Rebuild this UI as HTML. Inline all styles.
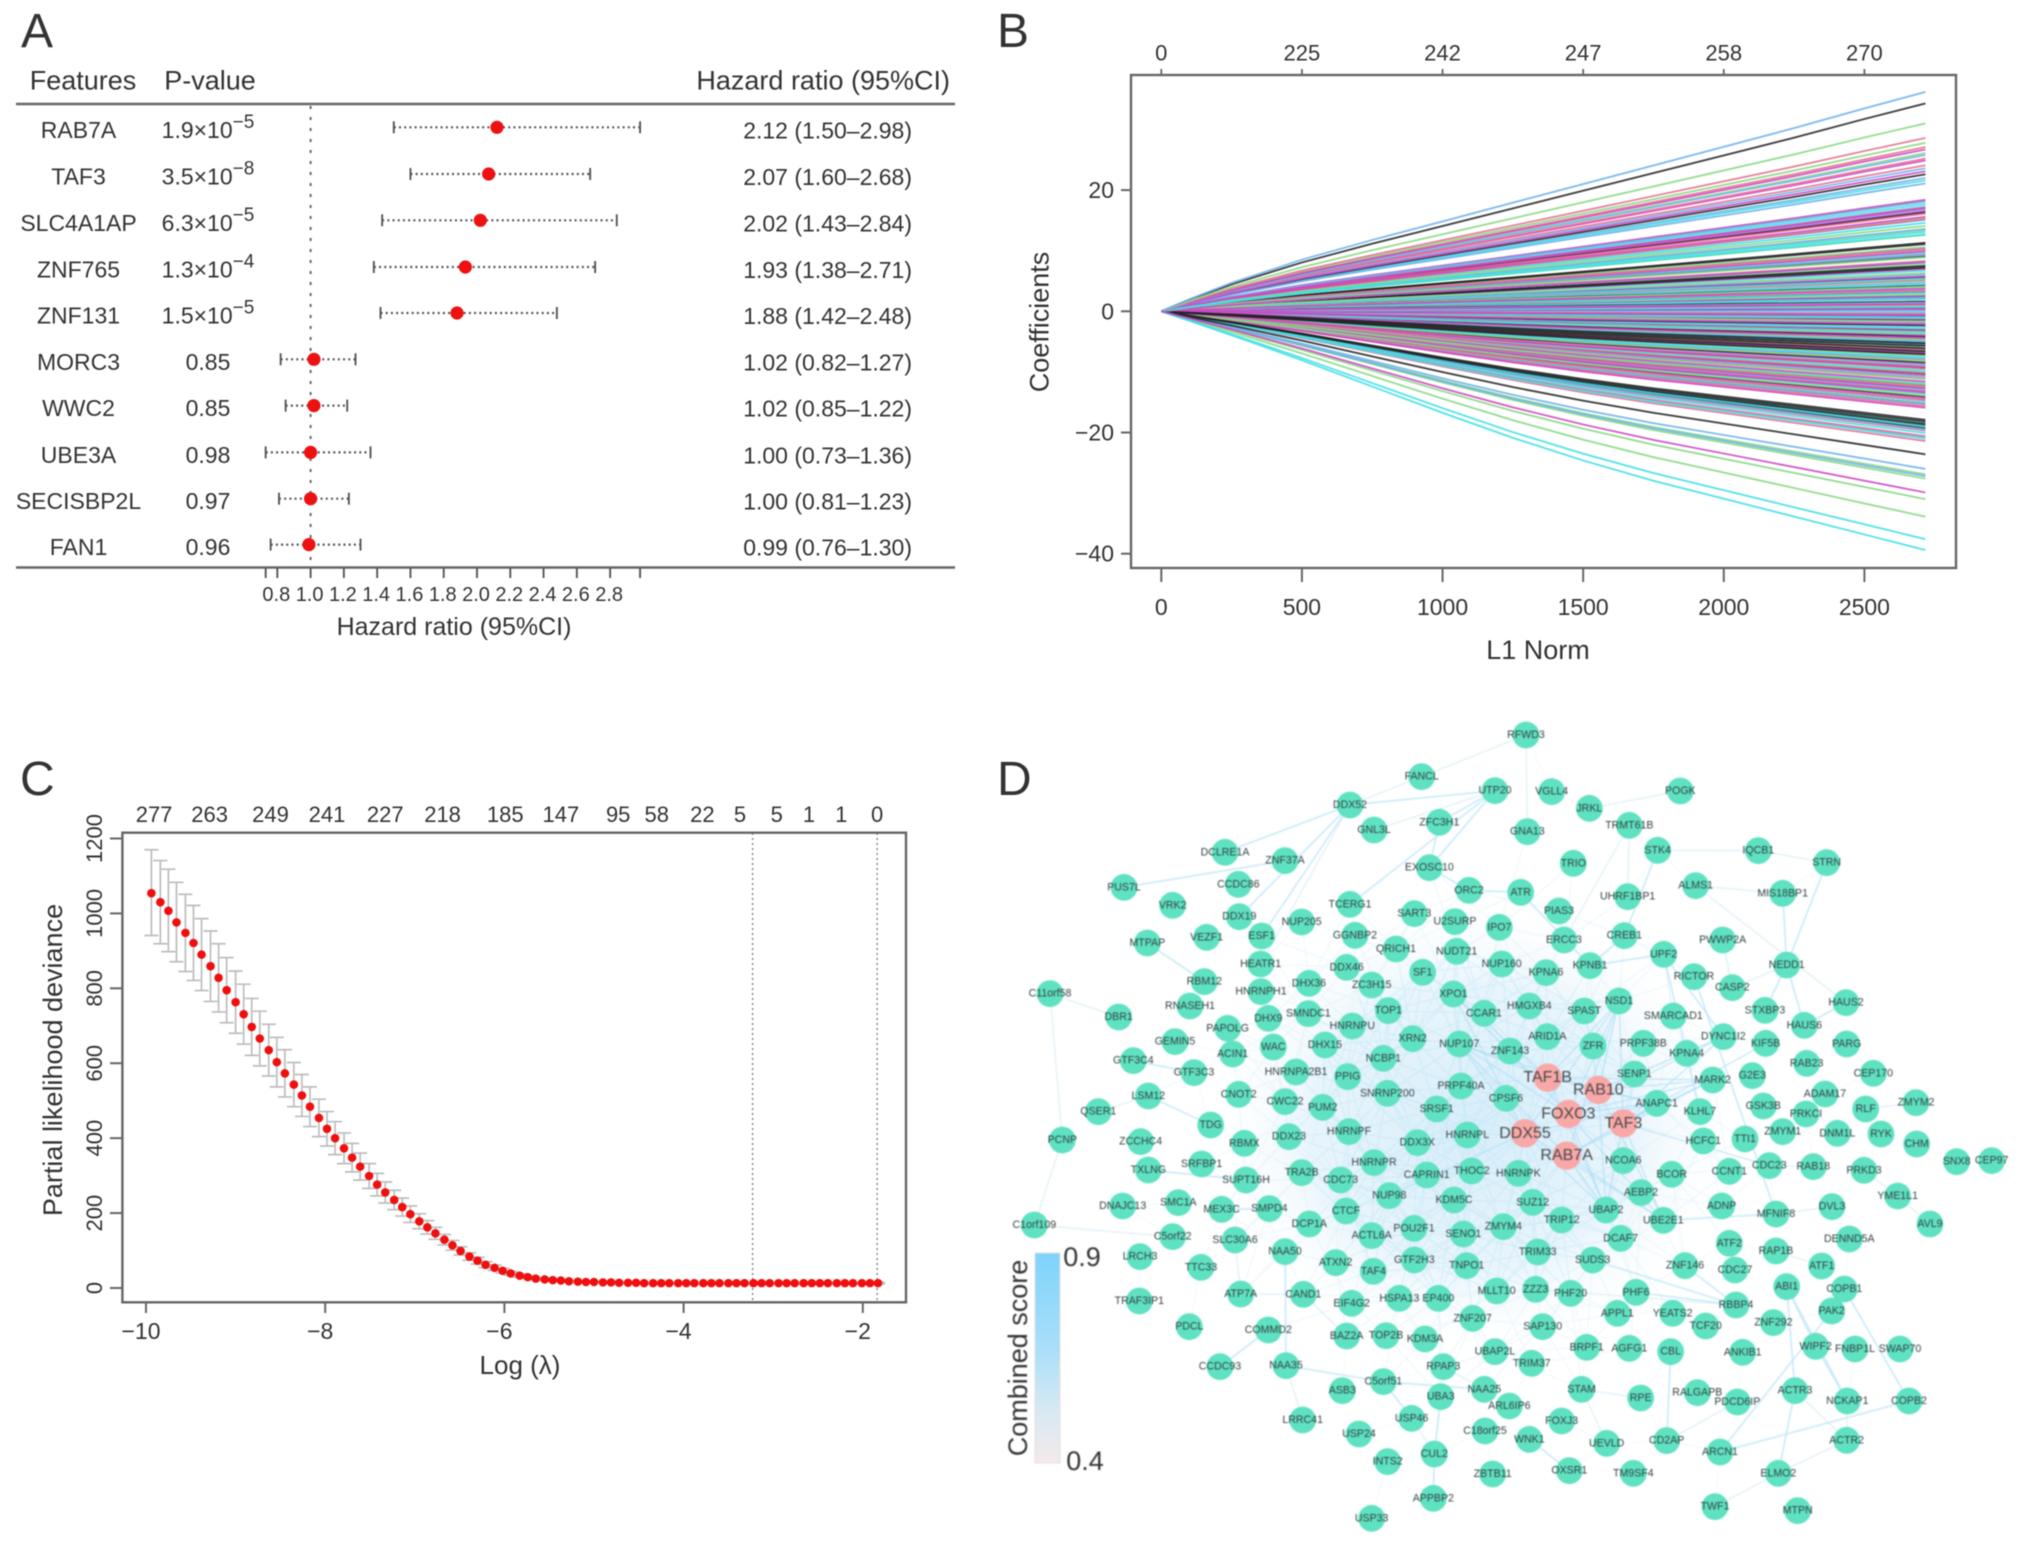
<!DOCTYPE html>
<html lang="en">
<head>
<meta charset="utf-8">
<title>Prognostic gene figure</title>
<style>
html,body{margin:0;padding:0;background:#fff;}
#figure{display:block;width:2032px;height:1550px;font-family:"Liberation Sans",Arial,sans-serif;}
#figure text{fill:#333;}
.soft{filter:blur(.65px);}
.softer{filter:blur(.85px);}
</style>
</head>
<body>
<svg id="figure" xmlns="http://www.w3.org/2000/svg" width="2032" height="1550" viewBox="0 0 2032 1550">
  <defs>
    <linearGradient id="scoreGradient" x1="0" y1="0" x2="0" y2="1">
      <stop offset="0" stop-color="#7ed3fb"/>
      <stop offset=".45" stop-color="#a9def8"/>
      <stop offset=".75" stop-color="#d6e9f3"/>
      <stop offset="1" stop-color="#f5e9ea"/>
    </linearGradient>
    <radialGradient id="hazeGradient">
      <stop offset="0" stop-color="#d6edf9"/>
      <stop offset=".6" stop-color="#e3f2fa" stop-opacity=".8"/>
      <stop offset="1" stop-color="#ffffff" stop-opacity="0"/>
    </radialGradient>
  </defs>
  <g id="panelA" class="soft"></g>
  <g id="panelB" class="soft"></g>
  <g id="panelC" class="soft"></g>
  <g id="panelD" class="softer"></g>
  <g class="soft">
    <text x="21" y="47" font-size="48">A</text>
    <text x="997" y="47" font-size="48">B</text>
    <text x="20" y="795" font-size="48">C</text>
    <text x="997" y="795" font-size="48">D</text>
  </g>
</svg>
<script>
/* ---------- Panel A data ---------- */
var features = ["RAB7A","TAF3","SLC4A1AP","ZNF765","ZNF131","MORC3","WWC2","UBE3A","SECISBP2L","FAN1"];
var pMantissa = ["1.9×10","3.5×10","6.3×10","1.3×10","1.5×10","0.85","0.85","0.98","0.97","0.96"];
var pExponent = ["−5","−8","−5","−4","−5","","","","",""];
var hazardRatio = [2.12,2.07,2.02,1.93,1.88,1.02,1.02,1.00,1.00,0.99];
var ciLow = [1.50,1.60,1.43,1.38,1.42,0.82,0.85,0.73,0.81,0.76];
var ciHigh = [2.98,2.68,2.84,2.71,2.48,1.27,1.22,1.36,1.23,1.30];
var hrTicks = [0.73,0.8,1.0,1.2,1.4,1.6,1.8,2.0,2.2,2.4,2.6,2.8,2.98];
var hrTickLabels = ["0.8","1.0","1.2","1.4","1.6","1.8","2.0","2.2","2.4","2.6","2.8"];
var hrTickLabelValues = [0.8,1.0,1.2,1.4,1.6,1.8,2.0,2.2,2.4,2.6,2.8];

/* ---------- Panel B data: end-of-path coefficients by palette colour ---------- */
var coefBlack = [34.3,-23.6,-18.2,-18.6,-17.9,-6.1,-6.6,-5.7,-7.1,-5.3,11.1,11.3,7.2,7.5,1.6,22.6,16.3,3.2,-3.1,-8.4,-4.2,-2.3,4.2,-18.9,-19.3,-6.9,0.6,-0.8,9.1,-12.2,-14.1,2.4,-1.4,5.6,-10.3,-5.1,-15.2,-9.2];
var coefPink = [28.6,27.1,25.2,24.1,17.1,16.1,15.2,10.2,8.3,5.2,3.4,1.1,-1.2,-3.3,-9.1,-10.2,-11.1,-15.6,-13.2,-20.6,-21.4,-19.7,-0.4,-6.3,-8.0,-12.4,-14.6,2.1,0.3,-2.4,-4.6,9.4];
var coefGreen = [31,27.8,26.1,14.1,12.6,8.9,6.3,4.1,-33.9,-31,-27.6,-26.9,-12.1,-13.9,-11.2,-8.2,-4.7,18.2,15.3,10.6,7.8,2.8,0.9,-1.7,-3.7,-6,-9.7,-15.2,13.4,5,-7.4];
var coefBlue = [36.2,25.8,23.6,21.1,18.1,17.3,13.6,9.3,-26,-27.2,-19.5,6.1,3.9,1.4,-0.9,-2.9,-5,-7.8,-10.8,-13.1,-15.3,22,16.7,15.1,7.4,4.7,2.3,0.1,-1.9,-4.1,-6.4,-9,-12.6,-14.8,-20.8];
var coefCyan = [-39.4,-37.6,13.1,12.7,-21,-20.1,-19,14.6,8.1,5.4,3.1,0.7,-1.1,-3.5,-5.4,-7.6,-9.9,-11.9,-13.6,-18.4,21.6,17.7,6.7,4.4,2,-0.2,-2.6,-4.9,-8.8,-12.9,9.7];
var coefMagenta = [-29.9,26.7,23.1,17,15.6,8.1,3.7,1.2,-0.6,-2.1,-4.4,-6.8,-9.4,-11.6,-13.4,-15.9,24.9,18.4,16.5,9.9,7,5.8,2.6,0.4,-1.6,-3.9,-5.6,-8.6,-10.6,-12.7,-14.4,10.4];
var l1Grid = [0,100,250,500,750,1000,1250,1500,1750,2000,2250,2500,2717];
var pathFractionPositive = [0,.055,.13,.235,.325,.41,.495,.58,.665,.75,.835,.925,1];
var pathFractionNegative = [0,.04,.1,.205,.315,.425,.53,.625,.71,.785,.86,.935,1];
var l1Ticks = [0,500,1000,1500,2000,2500];
var l1TopLabels = ["0","225","242","247","258","270"];
var coefTicks = [20,0,-20,-40];

/* ---------- Panel C data ---------- */
var logLambda = [-9.94,-9.84,-9.75,-9.66,-9.56,-9.47,-9.38,-9.28,-9.19,-9.10,-9.00,-8.91,-8.82,-8.73,-8.63,-8.54,-8.45,-8.35,-8.26,-8.17,-8.07,-7.98,-7.89,-7.79,-7.70,-7.61,-7.51,-7.42,-7.33,-7.23,-7.14,-7.05,-6.95,-6.86,-6.77,-6.67,-6.58,-6.49,-6.39,-6.30,-6.21,-6.11,-6.02,-5.93,-5.83,-5.74,-5.65,-5.55,-5.46,-5.37,-5.28,-5.18,-5.09,-5.00,-4.90,-4.81,-4.72,-4.62,-4.53,-4.44,-4.34,-4.25,-4.16,-4.06,-3.97,-3.88,-3.78,-3.69,-3.60,-3.50,-3.41,-3.32,-3.22,-3.13,-3.04,-2.94,-2.85,-2.76,-2.66,-2.57,-2.48,-2.39,-2.29,-2.20,-2.11,-2.01,-1.92,-1.83];
var deviance = [1054,1030,1007,976,948,921,890,859,828,795,763,731,697,666,635,603,573,543,514,484,454,425,400,373,348,324,299,276,255,235,216,197,178,162,146,129,114,99,84,73,62,54,46,39,33,29,25,23,21,20,18,17,16,16,15,15,14,14,14,13,13,13,13,13,13,13,13,13,13,13,13,13,13,13,13,13,13,13,13,13,13,13,13,13,13,13,13,13];
var devianceUpper = [1170,1141,1118,1083,1051,1021,986,953,919,882,846,811,773,739,704,669,636,602,570,537,504,471,444,414,386,360,332,306,283,261,240,219,198,180,162,143,127,110,94,82,70,61,52,44,38,33,28,26,24,22,20,19,18,18,17,17,16,16,16,15,15,15,15,15,15,15,15,15,15,15,15,15,15,15,15,15,15,15,15,15,15,15,15,15,15,15,15,15];
var devianceLower = [941,919,898,871,845,821,794,765,737,708,680,651,621,593,566,537,510,484,458,431,404,379,356,332,310,288,266,246,227,209,192,175,158,144,130,115,101,88,74,64,54,47,40,34,29,25,22,20,18,18,16,15,14,14,13,13,12,12,12,11,11,11,11,11,11,11,11,11,11,11,11,11,11,11,11,11,11,11,11,11,11,11,11,11,11,11,11,11];
var lambdaTicks = [-10,-8,-6,-4,-2];
var devianceTicks = [0,200,400,600,800,1000,1200];
var activeCounts = ["277","263","249","241","227","218","185","147","95","58","22","5","5","1","1","0"];
var activeCountAt = [-9.91,-9.29,-8.61,-7.98,-7.33,-6.69,-5.99,-5.37,-4.73,-4.30,-3.79,-3.37,-2.96,-2.60,-2.24,-1.84];
var lambdaMarkers = [-3.23,-1.84];

/* ---------- Panel D data: [gene, layoutX, layoutY] ---------- */
var hubGenes = [["TAF1B",1643,1103],["RAB10",1795,1140],["FOXO3",1705,1212],["TAF3",1870,1240],["DDX55",1575,1270],["RAB7A",1700,1337]];
var partnerGenes = [
["DDX52",1050,285],["FANCL",1265,200],["UTP20",1485,242],["GNL3L",1122,360],["ZFC3H1",1318,337],["DCLRE1A",675,427],["ZNF37A",855,452],["EXOSC10",1288,473],["PUS7L",372,532],["CCDC86",715,523],["ORC2",1407,541],["VRK2",518,586],["DDX19",718,620],["TCERG1",1050,583],["SART3",1243,611],["NUP205",905,636],["U2SURP",1365,635],["IPO7",1498,652],["MTPAP",442,699],["VEZF1",620,682],["ESF1",785,678],["GGNBP2",1065,676],["QRICH1",1188,717],["NUDT21",1370,724],["HEATR1",782,762],["NUP160",1505,762],["DDX46",1040,772],["SF1",1268,787],["RBM12",613,815],["DHX36",927,820],["ZC3H15",1115,825],["HNRNPH1",783,845],["XPO1",1360,852],["C11orf58",150,851],["RNASEH1",570,888],["TOP1",1165,902],["CCAR1",1452,910],["DBR1",356,921],["SMNDC1",925,911],["DHX9",805,925],["PAPOLG",683,955],["HNRNPU",1057,948],["GEMIN5",525,995],["XRN2",1238,986],["NUP107",1378,1002],["ZNF143",1530,1023],["WAC",820,1011],["DHX15",975,1005],["ACIN1",698,1032],["NCBP1",1150,1045],["GTF3C4",400,1052],["GTF3C3",582,1088],["HNRNPA2B1",888,1086],["PPIG",1043,1100],["PRPF40A",1383,1128],["CPSF6",1518,1165],["CNOT2",716,1153],["LSM12",445,1158],["CWC22",855,1175],["PUM2",968,1192],["SNRNP200",1162,1150],["SRSF1",1310,1197],["QSER1",295,1205],["TDG",632,1245],
["RFWD3",1578,75],["VGLL4",1655,245],["POGK",2041,243],["JRKL",1768,295],["TRMT61B",1888,346],["GNA13",1582,365],["STK4",1973,421],["IQCB1",2275,422],["STRN",2480,458],["TRIO",1720,460],["ALMS1",2087,527],["MIS18BP1",2348,550],["ATR",1562,547],["UHRF1BP1",1883,560],["PIAS3",1677,603],["ERCC3",1692,690],["CREB1",1873,677],["PWWP2A",2168,690],["UPF2",1991,733],["NEDD1",2360,765],["KPNB1",1770,767],["KPNA6",1638,788],["RICTOR",2082,800],["CASP2",2197,833],["NSD1",1857,873],["HMGXB4",1588,888],["SPAST",1753,903],["STXBP3",2295,901],["HAUS2",2538,878],["SMARCAD1",2020,918],["HAUS6",2413,946],["DYNC1I2",2170,980],["ARID1A",1642,980],["KIF5B",2297,1000],["PARG",2540,1002],["PRPF38B",1930,1000],["ZFR",1779,1008],["KPNA4",2060,1030],["RAB23",2420,1060],["CEP170",2620,1090],["SENP1",1903,1092],["MARK2",2138,1110],["G2E3",2257,1097],["ADAM17",2475,1152],["ZMYM2",2748,1178],["ANAPC1",1970,1180],["GSK3B",2290,1188],["RLF",2597,1197],["KLHL7",2100,1205],["PRKCI",2418,1212],
["ZMYM1",2348,1265],["HCFC1",2110,1293],["TTI1",2235,1287],["DNM1L",2512,1270],["RYK",2643,1272],["CHM",2750,1302],["SNX8",2870,1355],["CEP97",2975,1352],["NCOA6",1870,1352],["HNRNPK",1555,1390],["BCOR",2015,1393],["CCNT1",2188,1384],["CDC23",2308,1367],["RAB18",2440,1370],["PRKD3",2592,1381],["YME1L1",2693,1458],["AEBP2",1923,1448],["SUZ12",1598,1477],["ADNP",2165,1488],["DVL3",2496,1490],["UBAP2",1818,1500],["MFNIF8",2328,1512],["TRIP12",1685,1530],["UBE2E1",1990,1531],["AVL9",2790,1542],["ZMYM4",1510,1550],["DCAF7",1862,1585],["DENND5A",2548,1587],["ATF2",2188,1600],["RAP1B",2328,1623],["TRIM33",1613,1626],["SUDS3",1778,1650],["ZNF146",2055,1667],["CDC27",2205,1680],["ATF1",2465,1668],["ABI1",2360,1730],["COPB1",2533,1737],["ZZZ3",1607,1738],["MLLT10",1490,1743],["PHF20",1712,1750],["PHF6",1908,1747],["RBBP4",2208,1785],["PAK2",2495,1803],["APPL1",1852,1810],["YEATS2",2018,1810],["ZNF292",2320,1838],["TCF20",2117,1848],["SAP130",1628,1850],["WIPF2",2447,1909],["FNBP1L",2565,1917],["SWAP70",2700,1917],["BRPF1",1760,1912],["AGFG1",1888,1915],["CBL",2012,1925],["ANKIB1",2228,1927],["UBAP2L",1485,1925],["TRIM37",1595,1960],["STAM",1745,2038],["RPE",1922,2064],["RALGAPB",2092,2048],["PDCD6IP",2212,2076],["ACTR3",2385,2042],["NCKAP1",2542,2073],["COPB2",2727,2073],["ARL6IP6",1528,2088],["FOXJ3",1685,2133],["WNK1",1588,2188],["UEVLD",1820,2200],["CD2AP",2000,2192],["ACTR2",2540,2191],["ARCN1",2160,2226],["OXSR1",1708,2282],["TM9SF4",1900,2290],["ELMO2",2335,2290],["TWF1",2145,2390],["MTPN",2393,2402],["ZBTB11",1478,2292],
["PCNP",187,1290],["ZCCHC4",422,1295],["RBMX",733,1300],["DDX23",867,1280],["HNRNPF",1047,1265],["DDX3X",1252,1298],["HNRNPL",1402,1275],["TXLNG",445,1380],["SRFBP1",605,1362],["SUPT16H",738,1410],["TRA2B",905,1388],["CDC73",1022,1410],["HNRNPR",1122,1358],["CAPRIN1",1280,1395],["THOC2",1415,1383],["NUP98",1168,1457],["KDM5C",1362,1470],["DNAJC13",368,1488],["SMC1A",535,1478],["MEX3C",665,1498],["SMPD4",808,1496],["CTCF",1038,1503],["DCP1A",928,1542],["C1orf109",103,1545],["POU2F1",1242,1555],["SENO1",1390,1572],["ACTL6A",1115,1577],["C5orf22",518,1580],["SLC30A6",705,1590],["NAA50",855,1625],["LRCH3",420,1640],["ATXN2",1007,1658],["GTF2H3",1243,1650],["TNPO1",1400,1667],["TTC33",603,1672],["TAF4",1120,1684],["ATP7A",722,1752],["CAND1",910,1753],["EIF4G2",1055,1780],["HSPA13",1198,1765],["EP400",1315,1765],["TRAF3IP1",418,1773],["ZNF207",1418,1825],["PDCL",568,1850],["COMMD2",805,1860],["BAZ2A",1040,1878],["TOP2B",1158,1877],["KDM3A",1275,1887],["CCDC93",660,1970],["NAA35",858,1967],["RPAP3",1330,1970],["C5orf51",1150,2015],["NAA25",1453,2038],["ASB3",1027,2042],["UBA3",1322,2060],["USP46",1235,2125],["LRRC41",908,2130],["C18orf25",1455,2163],["USP24",1077,2172],["CUL2",1303,2232],["INTS2",1163,2255],["APPBP2",1300,2365],["USP33",1115,2425]
];
var strongEdges = [["DDX52","UTP20"],["DDX52","DCLRE1A"],["PUS7L","ZNF37A"],["MTPAP","RBM12"],["UTP20","ZFC3H1"],["UTP20","EXOSC10"],["UTP20","TCERG1"],["DDX52","DDX19"],["DDX52","ESF1"],["ZFC3H1","EXOSC10"],["EXOSC10","ORC2"],["ORC2","ATR"],["STK4","CREB1"],["NEDD1","MIS18BP1"],["NEDD1","STRN"],["NEDD1","HAUS6"],["HAUS6","HAUS2"],["NEDD1","STXBP3"],["GTF3C4","GTF3C3"],["COMMD2","CCDC93"],["NAA50","NAA35"],["NAA35","C5orf51"],["C5orf51","NAA25"],["C5orf51","USP46"],["UBA3","CUL2"],["CUL2","APPBP2"],["CBL","CD2AP"],["ARCN1","COPB2"],["ARCN1","PAK2"],["COPB1","COPB2"],["ABI1","NCKAP1"],["ABI1","WIPF2"],["WIPF2","NCKAP1"],["ACTR3","ELMO2"],["ABI1","ACTR3"],["UBE2E1","MFNIF8"],["RBBP4","ZNF146"],["RBBP4","SUDS3"],["RBBP4","PHF6"],["RICTOR","MFNIF8"],["LSM12","TDG"],["TXLNG","SUPT16H"],["MEX3C","SMPD4"],["UPF2","KPNB1"],["UPF2","DYNC1I2"],["KLHL7","UPF2"],["CREB1","KPNB1"],["ATR","KPNB1"],["WNK1","OXSR1"]];
var faintEdges = [["DDX52","FANCL"],["FANCL","RFWD3"],["UTP20","GNL3L"],["DDX52","HEATR1"],["RFWD3","GNA13"],["STK4","IQCB1"],["IQCB1","STRN"],["TRMT61B","ERCC3"],["NEDD1","CASP2"],["ALMS1","MIS18BP1"],["C1orf109","C5orf22"],["PCNP","C1orf109"],["C11orf58","DBR1"],["C11orf58","PCNP"],["LSM12","QSER1"],["NAA25","RPAP3"],["ATP7A","CAND1"],["SLC30A6","ATP7A"],["LRRC41","NAA35"],["CAND1","BAZ2A"],["USP46","CUL2"],["STAM","RPE"],["STAM","UEVLD"],["ACTR3","ACTR2"],["NCKAP1","ACTR2"],["ELMO2","TWF1"],["ELMO2","ACTR2"],["CD2AP","PDCD6IP"],["RBBP4","ZZZ3"],["PRKD3","YME1L1"],["YME1L1","AVL9"],["RLF","ZMYM2"],["DVL3","MFNIF8"],["CDC23","RAB18"],["ATF1","RAP1B"],["UPF2","SMARCAD1"],["CASP2","PWWP2A"],["TRMT61B","UHRF1BP1"],["PIAS3","ERCC3"],["POGK","JRKL"],["ALMS1","HAUS2"]];

/* ---------- Helpers ---------- */
var NS = "http://www.w3.org/2000/svg";
function mk(parent, tag, attrs, txt) {
  var el = document.createElementNS(NS, tag);
  for (var k in attrs) { el.setAttribute(k, attrs[k]); }
  if (txt !== undefined) { el.textContent = txt; }
  parent.appendChild(el);
  return el;
}
function slug(s) { return String(s).toLowerCase().replace(/[^a-z0-9]+/g, "-"); }
function label(parent, x, y, size, txt, anchor, name, rot) {
  var a = { x: x, y: y, "font-size": size, "text-anchor": anchor || "middle", "dominant-baseline": "central" };
  if (rot) { a.transform = "rotate(" + rot + " " + x + " " + y + ")"; }
  var el = mk(parent, "text", a, txt);
  
  
  return el;
}
function mark(parent, tag, attrs, name) {
  var el = mk(parent, tag, attrs);
  
  
  return el;
}

/* ---------- Panel A ---------- */
(function () {
  var g = document.getElementById("panelA");
  function xA(v) { return 310.6 + (v - 1) * 166.4; }
  var rowY = [127.3, 174, 220.3, 267, 313, 359.3, 405.6, 452.4, 498.7, 544.6];
  label(g, 83, 80.5, 27, "Features", "middle", "features-column-header");
  label(g, 210, 80.5, 27, "P-value", "middle", "p-value-column-header");
  label(g, 950, 80.5, 27, "Hazard ratio (95%CI)", "end", "hazard-ratio-column-header");
  mark(g, "line", { x1: 16, x2: 955, y1: 104, y2: 104, stroke: "#666", "stroke-width": 2.4 }, "table-top-rule");
  mark(g, "line", { x1: 16, x2: 955, y1: 567.5, y2: 567.5, stroke: "#666", "stroke-width": 2.4 }, "table-bottom-rule");
  mark(g, "line", { x1: xA(1), x2: xA(1), y1: 106, y2: 566, stroke: "#666", "stroke-width": 2, "stroke-dasharray": "3 8" }, "reference-line-hr-1");
  features.forEach(function (f, i) {
    var y = rowY[i], n = slug(f);
    label(g, 78.5, y + 2.5, 23, f, "middle", "feature-label-" + n);
    var p = label(g, 208, y + 2.5, 23, pMantissa[i], "middle", "p-value-" + n);
    if (pExponent[i]) {
      var t = mk(p, "tspan", { dy: -8, "font-size": 19 }, pExponent[i]);
      
      
    }
    var hrText = hazardRatio[i].toFixed(2) + " (" + ciLow[i].toFixed(2) + "–" + ciHigh[i].toFixed(2) + ")";
    label(g, 912, y + 3, 23, hrText, "end", "hazard-ratio-text-" + n);
    mark(g, "line", { x1: xA(ciLow[i]), x2: xA(ciHigh[i]), y1: y, y2: y, stroke: "#555", "stroke-width": 2.2, "stroke-dasharray": "2 3.2" }, "ci-line-" + n);
    mark(g, "line", { x1: xA(ciLow[i]), x2: xA(ciLow[i]), y1: y - 6, y2: y + 6, stroke: "#555", "stroke-width": 1.9 }, "ci-low-cap-" + n);
    mark(g, "line", { x1: xA(ciHigh[i]), x2: xA(ciHigh[i]), y1: y - 6, y2: y + 6, stroke: "#555", "stroke-width": 1.9 }, "ci-high-cap-" + n);
    mark(g, "circle", { cx: xA(hazardRatio[i]), cy: y, r: 6.6, fill: "#ee1111" }, "hazard-point-" + n);
  });
  hrTicks.forEach(function (v, i) {
    mark(g, "line", { x1: xA(v), x2: xA(v), y1: 568, y2: 578, stroke: "#555", "stroke-width": 1.9 }, "hr-axis-tick-" + i);
  });
  hrTickLabels.forEach(function (s, i) {
    label(g, xA(hrTickLabelValues[i]) - 1, 595, 20, s, "middle", "hr-axis-label-" + slug(s));
  });
  label(g, 454, 627, 25, "Hazard ratio (95%CI)", "middle", "hr-axis-title");
})();

/* ---------- Panel B ---------- */
(function () {
  var g = document.getElementById("panelB");
  function xB(v) { return 1161.3 + v * 0.28124; }
  function yB(v) { return 311.3 - v * 6.06; }
  var palette = [
    ["black", coefBlack, "#262626"],
    ["pink", coefPink, "#e5708f"],
    ["green", coefGreen, "#86d882"],
    ["blue", coefBlue, "#6fb2ea"],
    ["cyan", coefCyan, "#3fdfe6"],
    ["magenta", coefMagenta, "#cf45c4"]
  ];
  var longest = 0;
  palette.forEach(function (p) { longest = Math.max(longest, p[1].length); });
  var lines = mk(g, "g", { fill: "none", "stroke-width": 1.9, "stroke-linejoin": "round" });
  
  
  for (var i = longest - 1; i >= 0; i--) {
    palette.forEach(function (p) {
      if (i >= p[1].length) { return; }
      var end = p[1][i];
      var frac = end >= 0 ? pathFractionPositive : pathFractionNegative;
      var d = l1Grid.map(function (l, j) {
        return (j ? "L" : "M") + xB(l).toFixed(1) + " " + yB(end * frac[j]).toFixed(1);
      }).join("");
      mark(lines, "path", { d: d, stroke: p[2], "stroke-opacity": 0.85 }, "coefficient-path-" + p[0] + "-" + i);
    });
  }
  mark(g, "rect", { x: 1131, y: 75, width: 825, height: 493, fill: "none", stroke: "#666", "stroke-width": 2.4 }, "coefficient-plot-frame");
  l1Ticks.forEach(function (v, i) {
    mark(g, "line", { x1: xB(v), x2: xB(v), y1: 568, y2: 582, stroke: "#666", "stroke-width": 2 }, "l1-axis-tick-" + v);
    mark(g, "line", { x1: xB(v), x2: xB(v), y1: 69, y2: 75, stroke: "#666", "stroke-width": 1.8 }, "top-axis-tick-" + v);
    label(g, xB(v), 607, 23, String(v), "middle", "l1-axis-label-" + v);
    label(g, xB(v), 53, 22, l1TopLabels[i], "middle", "top-axis-label-" + l1TopLabels[i]);
  });
  coefTicks.forEach(function (v) {
    mark(g, "line", { x1: 1121, x2: 1131, y1: yB(v), y2: yB(v), stroke: "#666", "stroke-width": 2 }, "coefficient-axis-tick-" + slug(v));
    label(g, 1114, yB(v), 23, String(v).replace("-", "−"), "end", "coefficient-axis-label-" + slug(v));
  });
  label(g, 1538, 650, 27, "L1 Norm", "middle", "l1-axis-title");
  label(g, 1039.5, 322, 27, "Coefficients", "middle", "coefficient-axis-title", -90);
})();

/* ---------- Panel C ---------- */
(function () {
  var g = document.getElementById("panelC");
  function xC(v) { return 146 + (v + 10) * 89.6; }
  function yC(v) { return 1288 - v * 0.3746; }
  lambdaMarkers.forEach(function (v, i) {
    mark(g, "line", { x1: xC(v), x2: xC(v), y1: 833, y2: 1302, stroke: "#777", "stroke-width": 1.3, "stroke-dasharray": "2 3" }, "lambda-marker-" + i);
  });
  logLambda.forEach(function (v, i) {
    var x = xC(v), u = yC(devianceUpper[i]), l = yC(devianceLower[i]);
    var d = "M" + x + " " + u + "V" + l + "M" + (x - 7) + " " + u + "H" + (x + 7) + "M" + (x - 7) + " " + l + "H" + (x + 7);
    mark(g, "path", { d: d, fill: "none", stroke: "#bdbdbd", "stroke-width": 1.7 }, "deviance-error-bar-" + i);
  });
  logLambda.forEach(function (v, i) {
    mark(g, "circle", { cx: xC(v), cy: yC(deviance[i]), r: 4.3, fill: "#f00f0f" }, "deviance-point-" + i);
  });
  mark(g, "rect", { x: 122.4, y: 832.7, width: 783.6, height: 469.6, fill: "none", stroke: "#666", "stroke-width": 2.4 }, "deviance-plot-frame");
  lambdaTicks.forEach(function (v) {
    mark(g, "line", { x1: xC(v), x2: xC(v), y1: 1302, y2: 1313, stroke: "#666", "stroke-width": 2 }, "lambda-axis-tick-" + slug(v));
    label(g, xC(v) - 5, 1331, 23, String(v).replace("-", "−"), "middle", "lambda-axis-label-" + slug(v));
  });
  devianceTicks.forEach(function (v) {
    mark(g, "line", { x1: 110, x2: 122.4, y1: yC(v), y2: yC(v), stroke: "#666", "stroke-width": 2 }, "deviance-axis-tick-" + v);
    label(g, 94.5, yC(v), 22, String(v), "middle", "deviance-axis-label-" + v, -90);
  });
  activeCounts.forEach(function (s, i) {
    label(g, xC(activeCountAt[i]), 814.5, 22, s, "middle", "active-count-label-" + i);
  });
  label(g, 520, 1365, 26, "Log (λ)", "middle", "lambda-axis-title");
  label(g, 53, 1060, 27, "Partial likelihood deviance", "middle", "deviance-axis-title", -90);
})();

/* ---------- Panel D ---------- */
(function () {
  var g = document.getElementById("panelD");
  function nx(v) { return 1000 + v / 3; }
  function ny(v) { return 710 + v / 3; }
  var all = hubGenes.concat(partnerGenes);
  var pos = {};
  all.forEach(function (n) { pos[n[0]] = n; });
  mark(g, "ellipse", { cx: nx(1420), cy: ny(1250), rx: 270, ry: 235, fill: "url(#hazeGradient)" }, "network-core-haze");

  function dist(a, b) { return Math.sqrt((a[1] - b[1]) * (a[1] - b[1]) + (a[2] - b[2]) * (a[2] - b[2])); }
  var classes = [[], [], []];
  function seg(a, b) { return "M" + nx(a[1]).toFixed(1) + " " + ny(a[2]).toFixed(1) + "L" + nx(b[1]).toFixed(1) + " " + ny(b[2]).toFixed(1); }
  var core = [1420, 1250];
  for (var i = 0; i < all.length; i++) {
    for (var j = i + 1; j < all.length; j++) {
      var a = all[i], b = all[j], d = dist(a, b);
      if (d > 300) { continue; }
      var mx = (a[1] + b[1]) / 2 - core[0], my = (a[2] + b[2]) / 2 - core[1];
      var r = Math.sqrt(mx * mx + my * my);
      if (r < 480) { classes[0].push(seg(a, b)); }
      else if (r < 760) { if ((i + j) % 2 === 0) { classes[1].push(seg(a, b)); } }
      else if (d < 190 && (i + j) % 3 === 0) { classes[2].push(seg(a, b)); }
    }
  }
  var hazeStyles = [["#b4e1f7", 0.38, 1.2], ["#cfeaf8", 0.36, 1.1], ["#e6eef2", 0.4, 1]];
  classes.forEach(function (c, k) {
    mark(g, "path", { d: c.join(""), fill: "none", stroke: hazeStyles[k][0], "stroke-opacity": hazeStyles[k][1], "stroke-width": hazeStyles[k][2] }, "network-edges-layer-" + k);
  });
  hubGenes.forEach(function (h) {
    partnerGenes.forEach(function (p) {
      var d = dist(h, p);
      if (d < 520 && (p[1] + p[2]) % 7 === 0) {
        mark(g, "path", { d: seg(h, p), stroke: "#a8dcf6", "stroke-width": 1.4, "stroke-opacity": 0.6 }, "hub-edge-" + slug(h[0]) + "-" + slug(p[0]));
      }
    });
  });
  faintEdges.forEach(function (e) {
    if (pos[e[0]] && pos[e[1]]) {
      mark(g, "path", { d: seg(pos[e[0]], pos[e[1]]), stroke: "#dcedf5", "stroke-width": 1.4, "stroke-opacity": 0.8 }, "faint-network-edge-" + slug(e[0]) + "-" + slug(e[1]));
    }
  });
  strongEdges.forEach(function (e) {
    if (pos[e[0]] && pos[e[1]]) {
      mark(g, "path", { d: seg(pos[e[0]], pos[e[1]]), stroke: "#bfe6f9", "stroke-width": 1.7, "stroke-opacity": 0.8 }, "network-edge-" + slug(e[0]) + "-" + slug(e[1]));
    }
  });
  partnerGenes.forEach(function (n) {
    mark(g, "circle", { cx: nx(n[1]), cy: ny(n[2]), r: 13.4, fill: "#5fe2c1" }, "network-node-" + slug(n[0]));
  });
  hubGenes.forEach(function (n) {
    mark(g, "circle", { cx: nx(n[1]), cy: ny(n[2]), r: 14.2, fill: "#f9a8a8" }, "hub-node-" + slug(n[0]));
  });
  partnerGenes.forEach(function (n) {
    var t = label(g, nx(n[1]), ny(n[2]), 10.6, n[0], "middle", "network-node-label-" + slug(n[0]));
    t.setAttribute("style", "fill:#334042");
  });
  hubGenes.forEach(function (n) {
    var t = label(g, nx(n[1]), ny(n[2]), 16, n[0], "middle", "hub-node-label-" + slug(n[0]));
    t.setAttribute("style", "fill:#474747");
  });
  /* combined-score legend */
  mark(g, "rect", { x: 1035, y: 1253, width: 25, height: 210, fill: "url(#scoreGradient)", stroke: "#e4e0e0", "stroke-width": 1 }, "combined-score-colorbar");
  label(g, 1082, 1257, 27, "0.9", "middle", "colorbar-max-label");
  label(g, 1085, 1461, 27, "0.4", "middle", "colorbar-min-label");
  label(g, 1018, 1358, 27, "Combined score", "middle", "colorbar-title", -90);
})();
</script>
</body>
</html>
